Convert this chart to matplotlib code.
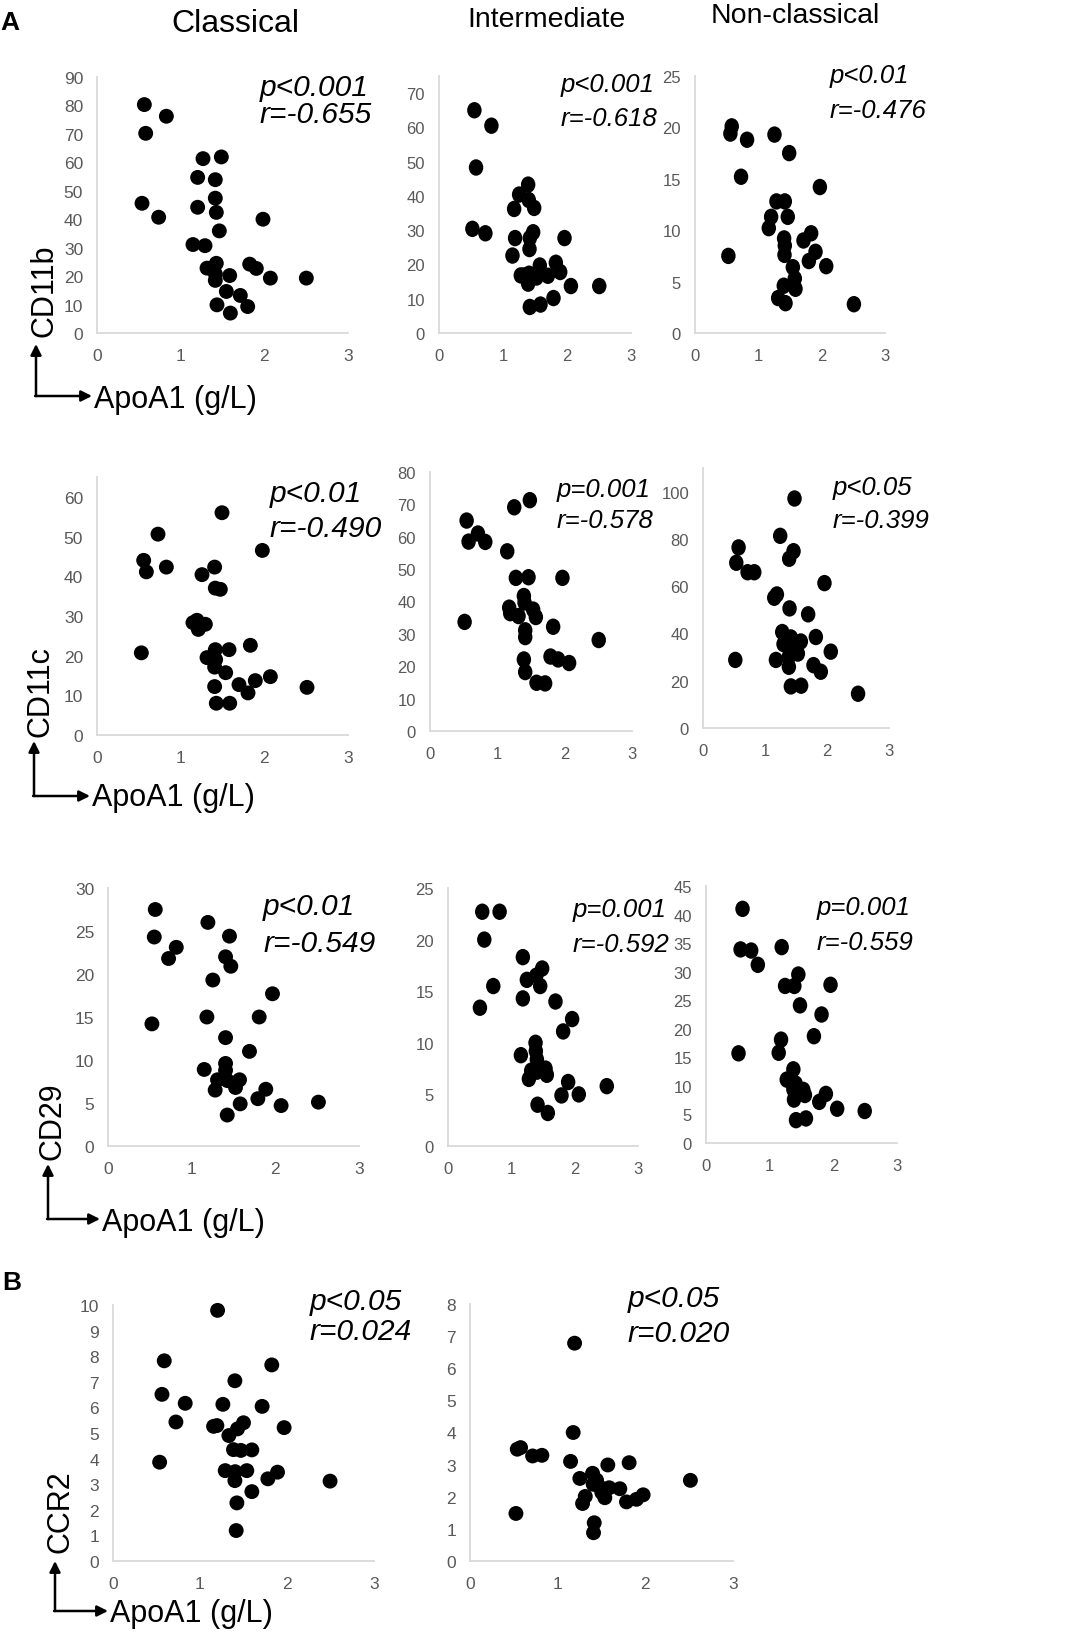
import matplotlib
matplotlib.use("Agg")
import matplotlib.pyplot as plt
from matplotlib.path import Path

plt.rcParams['font.family'] = ['Liberation Sans', 'DejaVu Sans']

W, H = 1084, 1633

# ---- data (ApoA1 g/L vs marker expression) ----
cd11b_cla_x = [0.566, 0.829, 0.582, 1.267, 1.486, 1.203, 1.414, 0.538, 1.414, 1.203, 1.426, 0.737, 1.984, 1.462, 1.147,
               1.291, 1.315, 1.426, 1.414, 1.414, 1.586, 1.825, 1.904, 2.072, 2.502, 1.546, 1.713, 1.434, 1.801, 1.594]
cd11b_cla_y = [80.3, 76.2, 70.2, 61.3, 61.9, 54.7, 53.9, 45.6, 47.4, 44.2, 42.4, 40.7, 40.0, 35.9, 31.1,
               30.7, 22.8, 24.5, 20.8, 18.5, 20.2, 24.2, 22.7, 19.3, 19.3, 14.6, 13.2, 9.9, 9.3, 7.0]

cd11b_int_x = [0.553, 0.819, 0.579, 0.522, 0.725, 1.393, 1.252, 1.403, 1.174, 1.487, 1.471, 1.189, 1.419, 1.961, 1.414,
               1.148, 1.575, 1.826, 1.894, 1.278, 1.330, 1.408, 1.523, 1.701, 1.393, 2.061, 2.504, 1.789, 1.419, 1.586]
cd11b_int_y = [65.0, 60.5, 48.3, 30.4, 29.1, 43.3, 40.4, 38.8, 36.2, 36.5, 29.4, 27.7, 27.7, 27.7, 24.5,
               22.6, 19.7, 20.5, 17.8, 16.8, 16.8, 17.3, 16.2, 16.7, 14.4, 13.7, 13.7, 10.2, 7.6, 8.3]

cd11b_non_x = [0.580, 0.559, 0.822, 1.255, 1.487, 0.727, 1.972, 1.286, 1.418, 1.465, 1.202, 1.165, 1.407, 1.418,
               1.413, 1.713, 1.834, 1.903, 1.798, 0.527, 2.072, 1.545, 1.576, 1.587, 1.402, 1.313, 1.429, 2.509]
cd11b_non_y = [20.1, 19.4, 18.8, 19.3, 17.5, 15.2, 14.2, 12.8, 12.8, 11.3, 11.3, 10.2, 9.2, 8.5,
               7.6, 9.0, 9.7, 7.9, 7.0, 7.5, 6.5, 6.4, 5.3, 4.3, 4.6, 3.4, 2.9, 2.8]

cd11c_cla_x = [1.494, 0.729, 1.976, 0.558, 0.590, 0.829, 1.406, 1.255, 1.414, 1.474, 1.147, 1.195, 1.211, 1.295, 0.530,
               1.414, 1.578, 1.833, 1.315, 1.418, 1.406, 1.538, 2.072, 1.892, 1.697, 1.805, 1.406, 2.510, 1.426, 1.586]
cd11c_cla_y = [56.0, 50.6, 46.5, 44.0, 41.1, 42.3, 42.3, 40.4, 37.0, 36.7, 28.3, 28.9, 26.6, 27.9, 20.7,
               21.5, 21.5, 22.6, 19.5, 19.0, 17.1, 15.7, 14.7, 13.7, 12.7, 10.6, 12.2, 12.0, 8.0, 8.0]

cd11c_int_x = [1.483, 1.251, 0.544, 0.712, 0.573, 0.821, 1.147, 1.275, 1.463, 1.967, 1.394, 1.404, 1.176, 1.191, 1.315,
               1.532, 1.572, 0.514, 1.414, 1.414, 1.829, 2.506, 1.394, 1.790, 1.903, 2.066, 1.414, 1.582, 1.710]
cd11c_int_y = [71.3, 69.1, 65.0, 61.0, 58.5, 58.4, 55.5, 47.3, 47.5, 47.3, 41.7, 39.7, 38.1, 36.4, 35.5,
               37.5, 35.2, 33.7, 31.1, 29.0, 32.2, 28.1, 22.1, 23.0, 22.1, 21.0, 18.2, 14.9, 14.7]

cd11c_non_x = [1.476, 1.245, 0.574, 1.460, 1.390, 0.537, 0.719, 0.827, 1.959, 1.192, 1.149, 1.396, 1.696, 1.278, 1.417,
               1.820, 1.299, 1.578, 1.385, 2.061, 1.530, 1.385, 0.521, 1.176, 1.782, 1.385, 1.900, 1.417, 1.583, 2.501]
cd11c_non_y = [97.1, 81.3, 76.4, 74.8, 71.6, 69.9, 65.9, 65.9, 61.3, 56.5, 55.1, 50.6, 48.1, 40.6, 38.3,
               38.5, 35.5, 36.6, 34.0, 32.3, 31.5, 30.2, 28.8, 28.8, 26.6, 25.9, 23.8, 17.6, 17.9, 14.5]

cd29_cla_x = [0.565, 1.194, 0.553, 1.452, 0.816, 0.724, 1.405, 1.468, 1.253, 1.966, 0.525, 1.182, 1.807, 1.405, 1.691,
              1.150, 1.405, 1.405, 1.309, 1.428, 1.572, 1.524, 1.281, 1.886, 1.791, 1.580, 2.069, 2.515, 1.425]
cd29_cla_y = [27.5, 26.0, 24.3, 24.4, 23.1, 21.8, 22.0, 20.9, 19.3, 17.7, 14.2, 15.0, 15.0, 12.6, 11.0,
              8.9, 9.6, 8.8, 7.7, 7.6, 7.7, 6.8, 6.5, 6.6, 5.5, 4.9, 4.7, 5.1, 3.6]

cd29_int_x = [0.541, 0.815, 0.573, 1.182, 1.487, 1.393, 1.245, 1.456, 0.715, 1.182, 1.697, 0.504, 1.960, 1.818, 1.382,
              1.387, 1.151, 1.403, 1.314, 1.403, 1.540, 1.561, 1.277, 1.897, 2.507, 1.792, 2.065, 1.414, 1.576]
cd29_int_y = [22.7, 22.7, 20.0, 18.3, 17.2, 16.5, 16.1, 15.5, 15.5, 14.3, 14.0, 13.4, 12.3, 11.1, 10.0,
              9.2, 8.8, 8.4, 7.3, 7.2, 7.5, 6.9, 6.5, 6.2, 5.8, 4.9, 5.0, 4.0, 3.2]

cd29_non_x = [0.574, 1.189, 0.543, 0.710, 0.814, 1.450, 1.242, 1.388, 1.956, 1.476, 1.815, 1.695, 1.179, 0.511,
              1.142, 1.372, 1.268, 1.408, 1.372, 1.528, 1.554, 1.883, 1.382, 1.779, 2.060, 2.493, 1.414, 1.570]
cd29_non_y = [41.0, 34.3, 33.9, 33.7, 31.2, 29.5, 27.5, 27.5, 27.7, 24.1, 22.5, 18.7, 18.1, 15.7,
              15.8, 12.9, 11.1, 10.4, 9.4, 9.3, 8.4, 8.6, 7.6, 7.2, 6.0, 5.6, 4.0, 4.3]

ccr2_cla_x = [1.202, 0.589, 1.825, 1.401, 0.563, 0.830, 1.263, 1.714, 0.723, 1.194, 1.156, 1.500, 1.431, 1.967, 1.332,
              1.385, 1.470, 1.596, 0.536, 1.290, 1.404, 1.538, 1.891, 1.780, 1.401, 2.495, 1.596, 1.424, 1.416]
ccr2_cla_y = [9.79, 7.82, 7.66, 7.04, 6.51, 6.16, 6.12, 6.04, 5.43, 5.29, 5.26, 5.40, 5.16, 5.21, 4.90,
              4.35, 4.32, 4.34, 3.86, 3.53, 3.49, 3.53, 3.47, 3.21, 3.14, 3.12, 2.71, 2.27, 1.19]

ccr2_int_x = [1.193, 1.177, 0.577, 0.539, 0.714, 0.820, 1.147, 1.815, 1.572, 2.514, 1.398, 1.253, 1.443, 1.405,
              1.473, 1.588, 1.709, 1.504, 1.538, 1.315, 1.975, 1.899, 1.785, 1.284, 0.524, 1.417, 1.409]
ccr2_int_y = [6.78, 4.00, 3.53, 3.48, 3.27, 3.29, 3.10, 3.06, 2.99, 2.51, 2.73, 2.57, 2.52, 2.39,
              2.32, 2.28, 2.25, 2.13, 1.97, 2.01, 2.06, 1.92, 1.84, 1.79, 1.48, 1.19, 0.88]

col_titles = ["Classical", "Intermediate", "Non-classical"]
row_markers = ["CD11b", "CD11c", "CD29", "CCR2"]

stats_p = ["p<0.001", "p<0.001", "p<0.01", "p<0.01", "p=0.001", "p<0.05",
           "p<0.01", "p=0.001", "p=0.001", "p<0.05", "p<0.05"]
stats_r = ["r=-0.655", "r=-0.618", "r=-0.476", "r=-0.490", "r=-0.578", "r=-0.399",
           "r=-0.549", "r=-0.592", "r=-0.559", "r=0.024", "r=0.020"]

panel_x = [cd11b_cla_x, cd11b_int_x, cd11b_non_x, cd11c_cla_x, cd11c_int_x, cd11c_non_x,
           cd29_cla_x, cd29_int_x, cd29_non_x, ccr2_cla_x, ccr2_int_x]
panel_y = [cd11b_cla_y, cd11b_int_y, cd11b_non_y, cd11c_cla_y, cd11c_int_y, cd11c_non_y,
           cd29_cla_y, cd29_int_y, cd29_non_y, ccr2_cla_y, ccr2_int_y]
y_max = [90, 75, 25, 65, 80, 110, 30, 25, 45, 10, 8]
y_step = [10, 10, 5, 10, 10, 20, 5, 5, 5, 1, 1]
y_top_tick = [90, 70, 25, 60, 80, 100, 30, 25, 45, 10, 8]
# panels that look horizontally squeezed in the original figure
squeezed = [False, True, True, False, True, True, False, True, True, False, False]

# ---- layout in pixels: left, right, bottom(y=0), top(y=max) ----
boxes = [(97, 348, 334, 78), (439, 631, 334, 77), (695, 885, 334, 77),
         (97, 348, 736, 478), (430, 632, 732, 473), (703, 889, 729, 469),
         (108, 359, 1147, 889), (448, 638, 1147, 889), (706, 897, 1144, 887),
         (113, 374, 1562, 1306), (470, 733, 1562, 1305)]
# stats text: left x, baseline of p line, baseline of r line
stat_pos = [(260, 96, 123), (561, 92, 126), (830, 83, 118),
            (270, 502, 537), (557, 497, 528), (833, 495, 528),
            (263, 915, 952), (573, 917, 952), (817, 915, 950),
            (310, 1310, 1340), (628, 1307, 1342)]

circ = Path.unit_circle()
oval = Path(circ.vertices * [0.88, 1.0], circ.codes)

fig = plt.figure(figsize=(W / 100, H / 100), dpi=100)

grey = '#d9d9d9'
for i in range(11):
    L, R, B, T = boxes[i]
    ax = fig.add_axes([L / W, 1 - B / H, (R - L) / W, (B - T) / H])
    if squeezed[i]:
        ax.scatter(panel_x[i], panel_y[i], s=140, marker=oval, color='black', edgecolors='none', clip_on=False)
    else:
        ax.scatter(panel_x[i], panel_y[i], s=115, color='black', edgecolors='none', clip_on=False)
    ax.set_xlim(0, 3)
    ax.set_ylim(0, y_max[i])
    ax.set_xticks([0, 1, 2, 3])
    ax.set_yticks(range(0, y_top_tick[i] + 1, y_step[i]))
    for s in ['top', 'right']:
        ax.spines[s].set_visible(False)
    for s in ['left', 'bottom']:
        ax.spines[s].set_color(grey)
        ax.spines[s].set_linewidth(1.3)
    ax.tick_params(axis='both', length=0, labelsize=12 if squeezed[i] else 12.5, labelcolor='#595959')
    ax.tick_params(axis='y', pad=10)
    ax.tick_params(axis='x', pad=11)
    ax.patch.set_alpha(0)

# overlay in pixel coordinates for titles, labels and arrows
ov = fig.add_axes([0, 0, 1, 1])
ov.set_xlim(0, W)
ov.set_ylim(H, 0)
ov.axis('off')
ov.patch.set_alpha(0)

for i in range(11):
    x, yp, yr = stat_pos[i]
    fs = 18.5 if squeezed[i] else 21.5
    ov.text(x, yp, stats_p[i], fontsize=fs, style='italic', ha='left', va='baseline')
    ov.text(x, yr, stats_r[i], fontsize=fs, style='italic', ha='left', va='baseline')

title_pos = [(235, 32), (547, 27), (795, 23)]
title_size = [23, 20.5, 20.5]
for t, (x, y), fs in zip(col_titles, title_pos, title_size):
    ov.text(x, y, t, fontsize=fs, ha='center', va='baseline')

ov.text(0, 30, "A", fontsize=19, fontweight='bold', ha='left', va='baseline')
ov.text(2, 1290, "B", fontsize=19, fontweight='bold', ha='left', va='baseline')

# row labels + L-shaped arrows: (ylabel x, ylabel y, arrow x, tip y, corner y, tip x, text baseline)
row_pos = [(52, 337, 36, 345, 397, 92, 408),
           (48, 737, 34, 742, 797, 90, 806),
           (60, 1160, 48, 1165, 1220, 100, 1231),
           (68, 1553, 55, 1562, 1612, 108, 1622)]
for name, (lx, ly, ax_x, tip_y, cy, tip_x, tb) in zip(row_markers, row_pos):
    ov.text(lx, ly, name, fontsize=22, rotation=90, rotation_mode='anchor', ha='left', va='baseline')
    ov.annotate('', xy=(ax_x, tip_y), xytext=(ax_x, cy),
                arrowprops=dict(arrowstyle='-|>', lw=1.8, color='black', mutation_scale=16,
                                shrinkA=0, shrinkB=0))
    ov.annotate('', xy=(tip_x, cy), xytext=(ax_x - 0.9, cy),
                arrowprops=dict(arrowstyle='-|>', lw=1.8, color='black', mutation_scale=16,
                                shrinkA=0, shrinkB=0))
    ov.text(tip_x + 2, tb, "ApoA1 (g/L)", fontsize=22, ha='left', va='baseline')

fig.savefig("out.png", dpi=100)
